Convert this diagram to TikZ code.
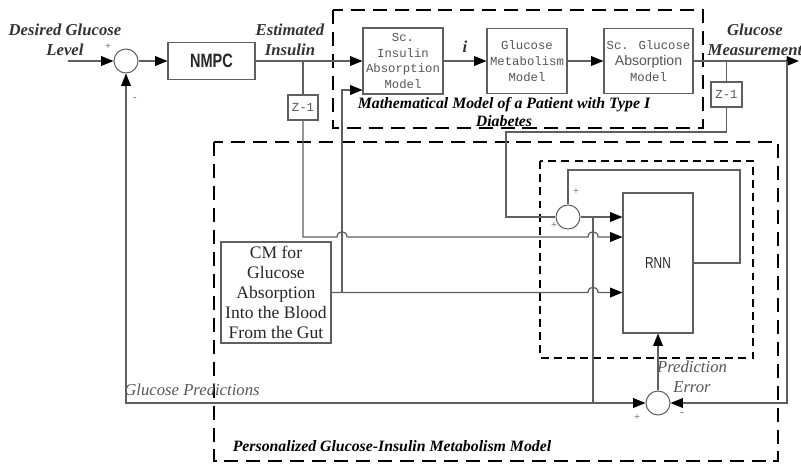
\documentclass[tikz,border=0pt]{standalone}
\usepackage{fontspec}
\setmainfont{Liberation Serif}
\newfontfamily\monofont{Liberation Mono}
\newfontfamily\sansfont{Liberation Sans}
\newfontfamily\narrowfont[FakeStretch=0.75]{Liberation Sans}
\usetikzlibrary{arrows.meta}
\definecolor{linegray}{RGB}{95,95,95}
\definecolor{textgray}{RGB}{85,85,85}

\begin{document}
\begin{tikzpicture}[
  x=0.02cm, y=-0.02cm,
  block/.style={draw=linegray, line width=0.6pt, align=center, inner sep=1pt, text=textgray, font=\monofont\fontsize{7}{9}\selectfont},
  sumnode/.style={circle, draw=linegray, line width=0.6pt, minimum size=0.48cm, inner sep=0pt},
  conn/.style={draw=linegray, line width=0.7pt},
  arrow/.style={conn, -{Triangle[length=7pt, width=5.5pt, color=black]}},
  boundary/.style={draw=black, line width=1.6pt, dash pattern=on 8pt off 4.5pt},
  innerboundary/.style={draw=black, line width=1pt, dash pattern=on 4.5pt off 3pt},
  sig/.style={font=\bfseries\itshape\fontsize{9.5}{11.4}\selectfont, align=center, text=black!80},
  caption/.style={font=\bfseries\itshape\fontsize{9}{10}\selectfont, align=center, text=black},
  note/.style={font=\itshape\fontsize{9.5}{11.4}\selectfont, align=center, text=textgray},
  sign/.style={font=\fontsize{6}{6}\selectfont, text=textgray, inner sep=0pt}
]
\useasboundingbox (0,0) rectangle (801,464);

% Dashed model boundaries
\draw[boundary] (333,10) rectangle (703,128);
\draw[boundary] (214,142) rectangle (778,461);
\draw[innerboundary] (540,161) rectangle (753,358);

% Blocks
\node[sumnode] (sum1) at (126,61) {};
\node[block, font=\narrowfont\bfseries\fontsize{11}{12}\selectfont, text=black!85, minimum width=1.74cm, minimum height=0.74cm] (nmpc) at (211.5,61) {NMPC};
\node[block, minimum width=1.6cm, minimum height=1.32cm] (insabs) at (403,61) {Sc.\\Insulin\\Absorption\\Model};
\node[block, minimum width=1.6cm, minimum height=1.3cm] (glumet) at (527,61) {Glucose\\Metabolism\\Model};
\node[block, minimum width=1.78cm, minimum height=1.3cm] (gluabs) at (648.5,61) {Sc. Glucose\\{\sansfont\fontsize{8}{9}\selectfont Absorption}\\Model};
\node[block, minimum width=0.6cm, minimum height=0.5cm] (z1a) at (303,107.5) {Z-1};
\node[block, minimum width=0.62cm, minimum height=0.5cm] (z1b) at (726.5,94.5) {Z-1};
\node[block, font=\fontsize{10}{11.4}\selectfont, text=black!85, minimum width=2.2cm, minimum height=2.02cm] (cm) at (276,292.5) {CM for\\Glucose\\Absorption\\Into the Blood\\From the Gut};
\node[block, font=\narrowfont\fontsize{9}{10}\selectfont, text=black!85, minimum width=1.4cm, minimum height=2.8cm] (rnn) at (658,263) {RNN};
\node[sumnode] (sum2) at (568,217) {};
\node[sumnode] (sum3) at (658,403) {};

% Signal labels
\node[sig] (desired) at (65,40) {Desired Glucose\\Level};
\node[sig] (estins) at (290,40) {Estimated\\Insulin};
\node[sig] (glumeas) at (755,40) {Glucose\\Measurement};
\node[caption] (mathlabel) at (504,112) {Mathematical Model of a Patient with Type I\\Diabetes};
\node[caption] (perslabel) at (392,446) {Personalized Glucose-Insulin Metabolism Model};
\node[note] (predlabel) at (192,390) {Glucose Predictions};
\node[note] (errlabel) at (692,377) {Prediction\\Error};

% Signs at the summing points
\node[sign] at (108,47) {+};
\node[sign] at (135,99) {-};
\node[sign] at (576,192) {+};
\node[sign] at (554,226) {+};
\node[sign] at (637,418) {+};
\node[sign] at (682,414) {-};

% Forward path
\coordinate (gin) at (68,61);
\coordinate (gout) at (799,61);
\draw[arrow] (gin) -- (sum1.west);
\draw[arrow] (sum1.east) -- (nmpc.west);
\draw[arrow] (nmpc.east) -- (insabs.west);
\draw[arrow] (insabs.east) -- (glumet.west) node[midway, above=1pt, sig] {i};
\draw[arrow] (glumet.east) -- (gluabs.west);
\draw[arrow] (gluabs.east) -- (gout);

% Delayed insulin into the RNN
\coordinate (bins) at (303,61);
\draw[conn] (bins) -- (z1a.north);
\draw[arrow] (z1a.south) |- (337,237) .. controls (337,230) and (347,230) .. (347,237)
  -- (588,237) .. controls (588,230) and (598,230) .. (598,237) -- (rnn.west |- 0,237);

% Gut absorption into the RNN and the patient model
\coordinate (bcm) at (342,292.5);
\draw[arrow] (cm.east) -- (588,292.5) .. controls (588,285.5) and (598,285.5) .. (598,292.5) -- (rnn.west |- cm.east);
\draw[arrow] (bcm) -- (342,90) -- (insabs.west |- 0,90);

% Delayed measurement and RNN feedback
\coordinate (bmeas) at (726.5,61);
\draw[conn] (bmeas) -- (z1b.north);
\draw[conn] (z1b.south) |- (506,132) |- (sum2.west);
\draw[arrow] (sum2.east) -- (rnn.west |- sum2.east);
\draw[conn] (rnn.east) -| (740,170) -| (sum2.north);

% Predictions and prediction error
\coordinate (bpred) at (593,217);
\coordinate (bfb) at (593,403);
\coordinate (bm2) at (787,61);
\draw[conn] (bpred) -- (bfb);
\draw[arrow] (bfb) -- (sum3.west);
\draw[arrow] (bfb) -| (sum1.south);
\draw[arrow] (bm2) |- (sum3.east);
\draw[arrow] (sum3.north) -- (rnn.south);
\end{tikzpicture}
\end{document}
